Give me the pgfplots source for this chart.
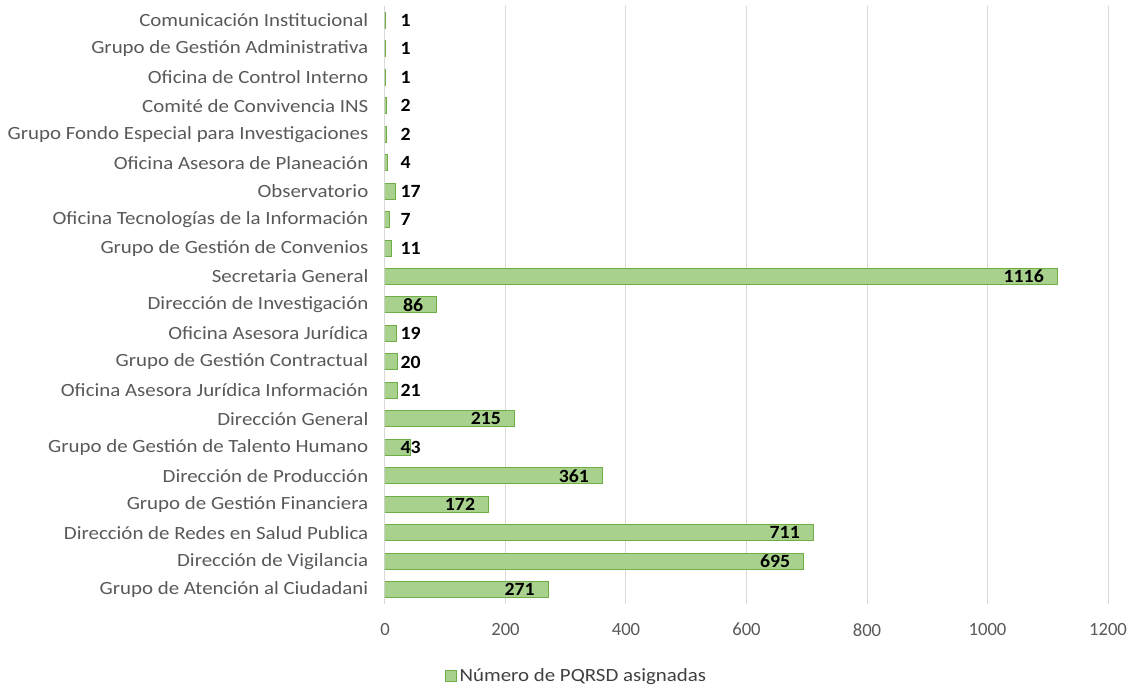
\documentclass[border=0pt]{standalone}
\usepackage{pgfplots}
\pgfplotsset{compat=1.18}
\usepackage{pgfplotstable}
\usepackage{fontspec}
\setmainfont{Carlito}
\newfontfamily\widefont{Carlito}[FakeStretch=1.12]
\newfontfamily\valfont{Carlito}[FakeStretch=1.06]
\definecolor{barfill}{HTML}{A9D18E}
\definecolor{baredge}{HTML}{70AD47}
\definecolor{txt}{HTML}{595959}
\definecolor{gridc}{HTML}{D9D9D9}
\definecolor{legtxt}{HTML}{404040}

\pgfplotstableread{
y v
0 271
1 695
2 711
3 172
4 361
5 43
6 215
7 21
8 20
9 19
10 86
11 1116
12 11
13 7
14 17
15 4
16 2
17 2
18 1
19 1
20 1
}\data

\begin{document}
\begin{tikzpicture}[font=\fontsize{14pt}{16pt}\selectfont]
\useasboundingbox (-288.75pt,-60.75pt) rectangle (559.5pt,453pt);
\begin{axis}[
  at={(0,0)}, anchor=south west,
  scale only axis, width=542.25pt, height=448.5pt,
  xmin=0, xmax=1200, ymin=-0.5, ymax=20.5,
  xtick={0,200,...,1200},
  ytick={0,...,20},
  yticklabels={Grupo de Atención al Ciudadani, Dirección de Vigilancia, Dirección de Redes en Salud Publica, Grupo de Gestión Financiera, Dirección de Producción, Grupo de Gestión de Talento Humano, Dirección General, Oficina Asesora Jurídica Información, Grupo de Gestión Contractual, Oficina Asesora Jurídica, Dirección de Investigación, Secretaria General, Grupo de Gestión de Convenios, Oficina Tecnologías de la Información, Observatorio, Oficina Asesora de Planeación, Grupo Fondo Especial para Investigaciones, Comité de Convivencia INS, Oficina de Control Interno, Grupo de Gestión Administrativa, Comunicación Institucional},
  axis line style={draw=none},
  major tick length=0pt,
  xmajorgrids, grid style={gridc, line width=0.75pt},
  tick label style={text=txt, font=\fontsize{14pt}{16pt}\selectfont},
  xticklabel style={yshift=-11pt},
  yticklabel style={xshift=-9pt, font=\fontsize{14pt}{16pt}\widefont},
  /pgf/number format/assume math mode=true,
  /pgf/number format/1000 sep={},
  legend style={at={(0.2656,-0.1204)}, anchor=center, draw=none, fill=none,
    font=\fontsize{14pt}{16pt}\widefont, text=legtxt},
]
\addplot[xbar, bar width=12pt, bar shift=0pt, fill=barfill, draw=baredge, line width=0.75pt,
  legend image code/.code={\draw[fill=barfill, draw=baredge, line width=0.75pt] (0pt,-4pt) rectangle (8pt,4pt);}]
  table[x=v, y=y] {\data};
\addlegendentry{Número de PQRSD asignadas}
\addplot[xbar, bar width=12pt, bar shift=0pt, draw=none, fill=none, forget plot,
  nodes near coords, point meta=explicit,
  nodes near coords style={anchor=east, xshift=-10pt, inner sep=0pt, text=black,
    font=\fontsize{14pt}{16pt}\valfont\bfseries}]
  table[x=v, y=y, meta=v, restrict expr to domain={\thisrow{v}}{60:5000}] {\data};
\addplot[xbar, bar width=12pt, bar shift=0pt, draw=none, fill=none, forget plot,
  nodes near coords, point meta=explicit,
  nodes near coords style={anchor=west, xshift=11.5pt, inner sep=0pt, text=black,
    font=\fontsize{14pt}{16pt}\valfont\bfseries}]
  table[x expr=0, y=y, meta=v, restrict expr to domain={\thisrow{v}}{0:59}] {\data};
\end{axis}
\end{tikzpicture}
\end{document}
